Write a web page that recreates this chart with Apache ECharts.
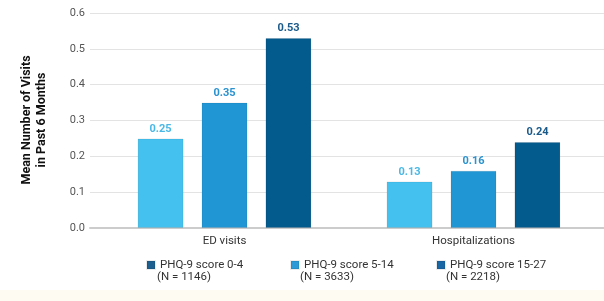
<!DOCTYPE html>
<html><head><meta charset="utf-8">
<script src="https://cdn.jsdelivr.net/npm/echarts@6/dist/echarts.min.js"></script>
<style>html,body{margin:0;padding:0;background:#fff}#c{width:604px;height:301px}</style>
</head><body><div id="c"></div>
<script>
const categories = ['ED visits', 'Hospitalizations'];
const seriesNames = ['PHQ-9 score 0-4', 'PHQ-9 score 5-14', 'PHQ-9 score 15-27'];
const seriesN = ['(N = 1146)', '(N = 3633)', '(N = 2218)'];
const score04 = [0.25, 0.13];
const score514 = [0.35, 0.16];
const score1527 = [0.53, 0.24];
const yTicks = [0, 0.1, 0.2, 0.3, 0.4, 0.5, 0.6];

const barColors = ['#45c1ef', '#2196d5', '#035a8d'];
const labelColors = ['#4ab8e6', '#2a92d0', '#1a5a8a'];
const legendColors = ['#1d5f8f', '#2b9ad6', '#1a67a6'];
const values = [score04, score514, score1527];
const font = 'Roboto, "DejaVu Sans", sans-serif';

const chart = echarts.init(document.getElementById('c'), null, {renderer: 'canvas'});
const series = values.map((v, i) => ({
  name: seriesNames[i], type: 'bar', xAxisIndex: 1, yAxisIndex: 1,
  data: v, barWidth: 46, barGap: '39%',
  itemStyle: {color: barColors[i], borderColor: 'rgba(0,0,0,0.08)', borderWidth: 1},
  label: {show: true, position: 'top', distance: 4, color: labelColors[i],
    fontFamily: font, fontWeight: 'bold', fontSize: 11,
    formatter: p => p.value.toFixed(2)}
}));
const legends = seriesNames.map((n, i) => ({
  left: [146, 290, 436][i], top: 259, itemWidth: 8, itemHeight: 8, padding: 0,
  icon: 'rect', selectedMode: false,
  data: [{name: n, itemStyle: {color: legendColors[i]}}],
  textStyle: {color: '#333', fontSize: 11.5, fontFamily: font}
}));
const graphics = [{
  type: 'rect', z: -10, shape: {x: 0, y: 290, width: 604, height: 11},
  style: {fill: '#fefcf2'}
}];
seriesN.forEach((t, i) => graphics.push({
  type: 'text', left: [157, 300, 446][i], top: 271,
  style: {text: t, fill: '#333', fontSize: 11.5, fontFamily: font}
}));
graphics.push({
  type: 'text', x: 34, y: 120, rotation: Math.PI / 2,
  style: {text: 'Mean Number of Visits\nin Past 6 Months', fill: '#111', fontSize: 12.5,
    fontWeight: 'bold', fontFamily: font, align: 'center', verticalAlign: 'middle', lineHeight: 15}
});
chart.setOption({
  animation: false,
  backgroundColor: '#fff',
  grid: [
    {left: 90, right: 0, top: 13, bottom: 73},
    {left: 100, right: 6, top: 13, bottom: 73}
  ],
  xAxis: [
    {gridIndex: 0, type: 'value', min: 0, max: 1, axisLabel: {show: false}, splitLine: {show: false},
      axisTick: {show: false}, axisLine: {show: true, lineStyle: {color: '#cccccc', width: 2}}},
    {gridIndex: 1, type: 'category', data: categories, axisLine: {show: false}, axisTick: {show: false},
      axisLabel: {color: '#333', fontSize: 11.5, fontFamily: font, margin: 7}}
  ],
  yAxis: [
    {gridIndex: 0, type: 'value', min: 0, max: 0.6, interval: 0.1,
      axisLine: {show: false}, axisTick: {show: false},
      splitLine: {lineStyle: {color: '#e3e3e3', width: 1}},
      axisLabel: {color: '#555', fontSize: 11, fontFamily: font, margin: 5,
        formatter: v => (yTicks.find(t => Math.abs(t - v) < 1e-9) ?? v).toFixed(1)}},
    {gridIndex: 1, type: 'value', min: 0, max: 0.6, interval: 0.1, show: false}
  ],
  legend: legends,
  graphic: graphics,
  series: series
});
</script></body></html>
